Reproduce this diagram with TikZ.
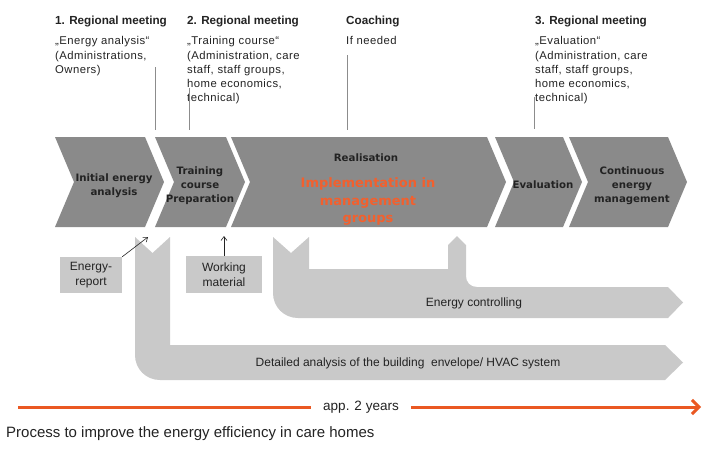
\documentclass[tikz,border=0pt]{standalone}
\usepackage{fontspec}
\setmainfont{Liberation Sans}
\newfontfamily\chevfont{DejaVu Sans}
\newfontfamily\spacedfont[LetterSpace=4]{Liberation Sans}
\usetikzlibrary{arrows.meta}
\definecolor{chevgray}{RGB}{138,138,138}
\definecolor{bandgray}{RGB}{201,201,201}
\definecolor{boxgray}{RGB}{201,201,201}
\definecolor{orangeA}{RGB}{234,88,34}
\definecolor{orangeT}{RGB}{242,96,46}
\definecolor{linegray}{RGB}{140,140,140}
\definecolor{txt}{RGB}{35,35,35}
\tikzset{
  chevshape/.style={fill=chevgray},
  bandshape/.style={fill=bandgray},
  chevlabel/.style={font=\chevfont\bfseries\fontsize{10.2}{14}\selectfont, text=txt, align=center, inner sep=0},
  orangelabel/.style={font=\chevfont\bfseries\fontsize{13}{17.5}\selectfont, text=orangeT, align=center, inner sep=0},
  toptitle/.style={anchor=base west, inner sep=0, font=\bfseries\fontsize{11.7}{14}\selectfont, text=txt},
  topbody/.style={anchor=base west, inner sep=0, font=\spacedfont\fontsize{11.3}{14}\selectfont, text=txt, align=left, text width=140pt},
  marker/.style={draw=linegray, line width=0.8pt},
  smallbox/.style={fill=boxgray, font=\fontsize{12}{15}\selectfont, text=txt, align=center, inner sep=0},
  thinarrow/.style={draw=txt, line width=0.6pt, -{Straight Barb[length=4pt,width=6pt]}},
  bandlabel/.style={font=\fontsize{12}{14}\selectfont, text=txt, inner sep=0},
  orangeline/.style={draw=orangeA, line width=3pt},
}
\begin{document}
\begin{tikzpicture}[x=1pt,y=-1pt]
\useasboundingbox (0,0) rectangle (703,448);
\fill[white] (0,0) rectangle (703,448);

% chevrons
\fill[chevshape] (55,137) -- (145,137) -- (164,182) -- (145,227) -- (55,227) -- (74,182) -- cycle;
\fill[chevshape] (155,137) -- (226,137) -- (245,182) -- (226,227) -- (155,227) -- (174,182) -- cycle;
\fill[chevshape] (231,137) -- (487,137) -- (506,182) -- (487,227) -- (231,227) -- (250,182) -- cycle;
\fill[chevshape] (495,137) -- (563,137) -- (582,182) -- (563,227) -- (495,227) -- (514,182) -- cycle;
\fill[chevshape] (569,137) -- (668,137) -- (687,182) -- (668,227) -- (569,227) -- (588,182) -- cycle;

\node[chevlabel] (c1) at (114,186) {Initial energy\\analysis};
\node[chevlabel] (c2) at (200,185.5) {Training\\course\\Preparation};
\node[chevlabel] (c3) at (366,158) {Realisation};
\node[orangelabel] (c3b) at (368,201.5) {Implementation in\\management\\groups};
\node[chevlabel] (c4) at (543,185) {Evaluation};
\node[chevlabel] (c5) at (632,185.5) {Continuous\\energy\\management};

% top texts
\node[toptitle] (t1) at (55,24.5) {1. Regional meeting};
\node[topbody] (t1a) at (55,44) {„Energy analysis“};
\node[topbody] (t1b) at (55,59) {(Administrations,\\Owners)};

\node[toptitle] (t2) at (187,24.5) {2. Regional meeting};
\node[topbody] (t2a) at (187,44) {„Training course“};
\node[topbody] (t2b) at (187,59) {(Administration, care\\staff, staff groups,\\home economics,\\technical)};

\node[toptitle] (t3) at (346,24.5) {Coaching};
\node[topbody] (t3a) at (346,44) {If needed};

\node[toptitle] (t4) at (535,24.5) {3. Regional meeting};
\node[topbody] (t4a) at (535,44) {„Evaluation“};
\node[topbody] (t4b) at (535,59) {(Administration, care\\staff, staff groups,\\home economics,\\technical)};

% marker lines
\coordinate (m1a) at (155,67);  \coordinate (m1b) at (155,130);
\coordinate (m2a) at (189,88);  \coordinate (m2b) at (189,130);
\coordinate (m3a) at (347,55);  \coordinate (m3b) at (347,130);
\coordinate (m4a) at (534,97);  \coordinate (m4b) at (534,129);
\draw[marker] (m1a) -- (m1b);
\draw[marker] (m2a) -- (m2b);
\draw[marker] (m3a) -- (m3b);
\draw[marker] (m4a) -- (m4b);

% big U band (detailed analysis)
\fill[bandshape] (135,237) -- (152.5,253) -- (170,237) -- (170,345) -- (665,345) -- (683,362.5) -- (665,380) -- (160,380) .. controls (146,380) and (135,369) .. (135,355) -- cycle;
% energy controlling band
\fill[bandshape] (273,237) -- (291,253) -- (309,237) -- (309,269) -- (448,269) -- (448,245) -- (457,236) -- (466,245) -- (466,276) .. controls (466,282) and (470,287) .. (477,287) -- (668,287) -- (683,302.5) -- (668,318) -- (298,318) .. controls (284,318) and (273,307) .. (273,293) -- cycle;

\node[bandlabel] (ec) at (474,303) {Energy controlling};
\node[bandlabel] (da) at (408,363) {Detailed analysis of the building\ \ envelope/ HVAC system};

% small boxes
\node[smallbox, minimum width=62pt, minimum height=36pt] (er) at (91,275) {Energy-\\report};
\node[smallbox, minimum width=76pt, minimum height=37pt] (wm) at (224,274.5) {Working\\material};
\coordinate (erT) at (148,237);
\coordinate (wmT) at (224,236);
\draw[thinarrow] (er.north east) -- (erT);
\draw[thinarrow] (wm.north) -- (wmT);

% time line
\node[font=\fontsize{13.5}{16}\selectfont, text=txt, inner xsep=12pt, inner ysep=0] (app) at (361,407) {app. 2 years};
\coordinate (tl0) at (18,407);
\coordinate (tl1) at (701,407);
\draw[orangeline] (tl0) -- (app.west);
\draw[orangeline, -{Straight Barb[length=7pt,width=14pt]}] (app.east) -- (tl1);

% caption
\node[anchor=base west, inner sep=0, font=\fontsize{15}{17}\selectfont, text=txt] (cap) at (6,437) {Process to improve the energy efficiency in care homes};
\end{tikzpicture}
\end{document}
